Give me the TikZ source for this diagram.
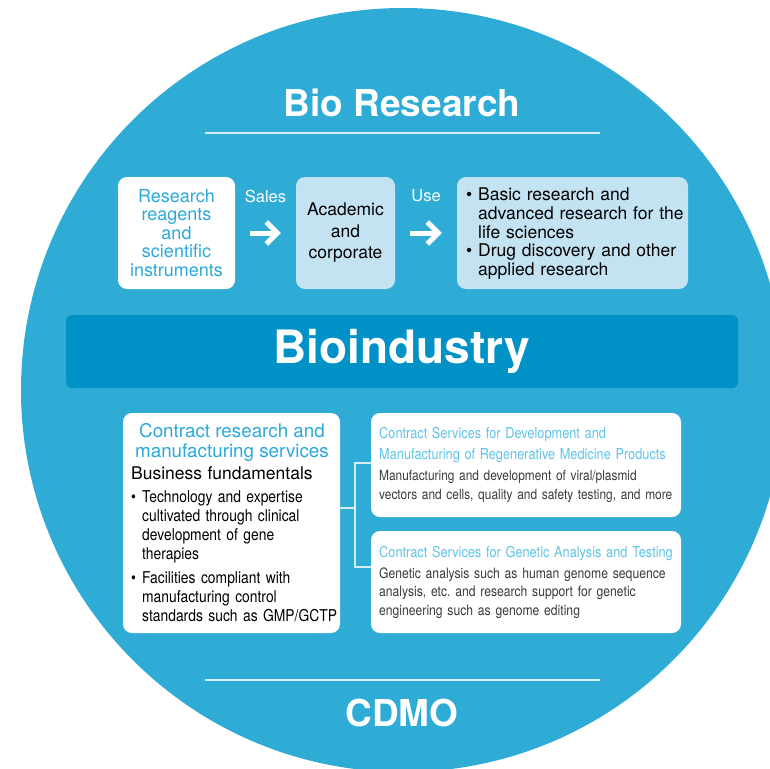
\documentclass[tikz,border=0pt]{standalone}
\usepackage{fontspec}
\setmainfont{TeX Gyre Heros}
\newfontfamily\narrowfont[FakeStretch=0.85]{TeX Gyre Heros}
\usetikzlibrary{arrows.meta}
\frenchspacing

\definecolor{discblue}{HTML}{2EACD6}
\definecolor{bandblue}{HTML}{0091C6}
\definecolor{paleblue}{HTML}{C3E2F2}
\definecolor{headblue}{HTML}{2AA9DA}
\definecolor{liteblue}{HTML}{5EC4E8}
\definecolor{rulecol}{HTML}{D4EEF8}
\definecolor{bodygray}{HTML}{3A3A3A}

\newcommand\dotitem[1][11pt]{\makebox[#1][l]{\textbullet}}
\newcommand\dotgap[1][11pt]{\hspace*{#1}}

\tikzset{
  panel/.style={rounded corners=9pt, inner sep=0pt},
  whitepanel/.style={panel, fill=white},
  palepanel/.style={panel, fill=paleblue},
  paneltext/.style={anchor=north west, inner sep=0pt, align=left},
  bigtitle/.style={text=white, font=\fontsize{37}{40}\selectfont\bfseries},
  wharrow/.style={white, line width=5pt,
    -{Straight Barb[length=11pt,width=22pt]},
    shorten <=15pt, shorten >=15pt},
  arrowlabel/.style={midway, yshift=37pt, text=white,
    font=\fontsize{16.5}{18}\selectfont},
  rulerline/.style={rulecol, line width=1.4pt},
  forkline/.style={rulecol, line width=1.2pt},
}

\begin{document}
\begin{tikzpicture}[x=1pt,y=-1pt]
    \useasboundingbox (0,0) rectangle (770,768);
    \clip (0,0) rectangle (770,768);

    %% Disc
    \fill[discblue] (403,390) circle[radius=382pt];

    %% Bio Research header
    \node[bigtitle] (bioRes) at (402,103) {Bio Research};
    \draw[rulerline] (205,133) -- (600,133);

    %% Top row: products -> users -> uses
    \node[whitepanel, minimum width=117pt, minimum height=112pt,
          align=center, text=headblue,
          font=\fontsize{18}{18.5}\selectfont]
        (reagents) at (176.5,233)
        {Research\\reagents\\and\\scientific\\instruments};
    \node[palepanel, minimum width=99pt, minimum height=112pt,
          align=center, font=\fontsize{17.5}{21.5}\selectfont]
        (users) at (345.5,233) {Academic\\and\\corporate};
    \node[palepanel, minimum width=231pt, minimum height=112pt]
        (uses) at (572.5,233) {};
    \node[paneltext, text width=230pt, font=\fontsize{17.5}{18.6}\selectfont]
        (usesTxt) at (466,188)
        {\dotitem[12pt]Basic research and\\
         \dotgap[12pt]advanced research for the\\
         \dotgap[12pt]life sciences\\
         \dotitem[12pt]Drug discovery and other\\
         \dotgap[12pt]applied research};

    \draw[wharrow] (reagents) -- (users)
        node[arrowlabel] (sales) {Sales};
    \draw[wharrow] (users) -- (uses)
        node[arrowlabel] (use) {Use};

    %% Bioindustry band
    \node[fill=bandblue, rounded corners=6pt, minimum width=672pt,
          minimum height=73pt, text=white,
          font=\fontsize{46}{48}\selectfont\bfseries]
        (bioInd) at (402,351.5) {Bioindustry};

    %% CDMO services
    \node[whitepanel, minimum width=217pt, minimum height=220pt]
        (crm) at (231.5,523) {};
    \node[anchor=north, inner sep=0pt, align=center, text=headblue,
          font=\fontsize{18.8}{20}\selectfont]
        (crmHead) at (232,423.5)
        {Contract research and\\manufacturing services};
    \node[paneltext, text width=230pt,
          font=\narrowfont\fontsize{16.3}{19}\selectfont]
        (crmTxt) at (131,466)
        {{\normalfont\fontsize{17.5}{19}\selectfont Business fundamentals}\\[4pt]
         \dotitem Technology and expertise\\
         \dotgap cultivated through clinical\\
         \dotgap development of gene\\
         \dotgap therapies\\[5pt]
         \dotitem Facilities compliant with\\
         \dotgap manufacturing control\\
         \dotgap standards such as GMP/GCTP};

    \node[whitepanel, minimum width=310pt, minimum height=104pt]
        (regen) at (526,465) {};
    \node[paneltext, text width=330pt, text=bodygray,
          font=\narrowfont\fontsize{14}{18.5}\selectfont]
        (regenTxt) at (379,427)
        {{\color{liteblue}\fontsize{15}{21}\selectfont
          Contract Services for Development and\\
          Manufacturing of Regenerative Medicine Products\par}
         \vspace{3pt}%
         Manufacturing and development of viral/plasmid\\
         vectors and cells, quality and safety testing, and more};

    \node[whitepanel, minimum width=310pt, minimum height=102pt]
        (genetic) at (526,582) {};
    \node[paneltext, text width=330pt, text=bodygray,
          font=\narrowfont\fontsize{14.3}{18.5}\selectfont]
        (geneticTxt) at (379,546)
        {{\color{liteblue}\fontsize{15}{21}\selectfont
          Contract Services for Genetic Analysis and Testing\par}
         \vspace{2.5pt}%
         Genetic analysis such as human genome sequence\\
         analysis, etc. and research support for genetic\\
         engineering such as genome editing};

    %% Fork between the service panels
    \coordinate (fork) at (355,508);
    \draw[forkline] (crm.east |- fork) -- (fork);
    \draw[forkline] (regen.west |- 0,463) -| (fork |- 0,567)
        -- (genetic.west |- 0,567);

    %% CDMO footer
    \draw[rulerline] (205,680) -- (600,680);
    \node[bigtitle] (cdmo) at (402,713) {CDMO};
\end{tikzpicture}
\end{document}
